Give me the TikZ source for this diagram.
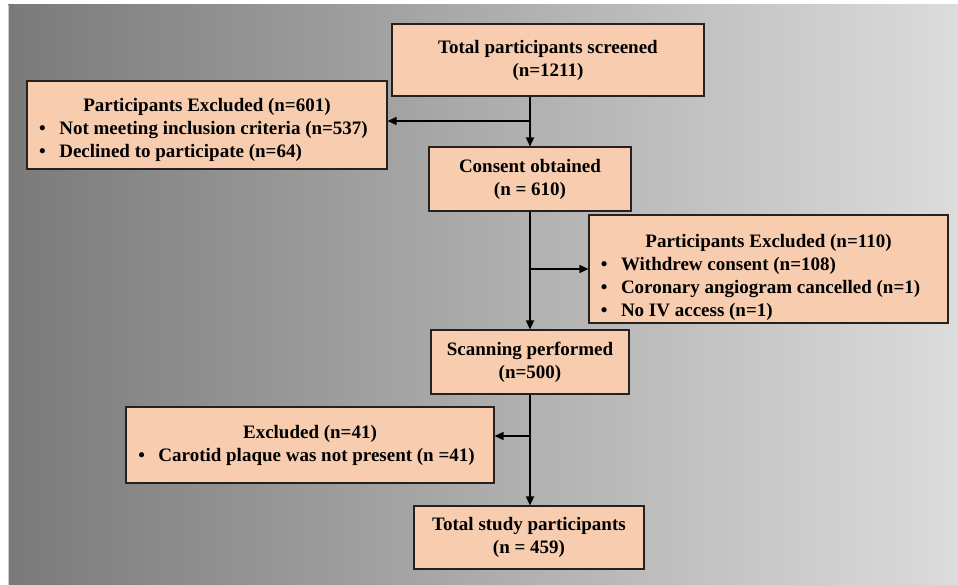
\documentclass[tikz,border=0pt]{standalone}
\usepackage{fontspec}
\setmainfont{Liberation Serif}
\usetikzlibrary{arrows.meta}
\definecolor{bgdark}{RGB}{122,122,122}
\definecolor{bgmid}{RGB}{172,172,172}
\definecolor{bglight}{RGB}{220,220,220}
\definecolor{boxfill}{RGB}{248,204,174}
\definecolor{boxline}{RGB}{40,32,28}
\tikzset{
  flowbox/.style={draw=boxline, line width=1.1pt, fill=boxfill, inner sep=0pt,
    align=center, font=\fontsize{19}{23}\selectfont\bfseries},
  flowarrow/.style={line width=1.4pt, -{Triangle[length=9pt,width=8pt]}},
}
% a box given by its corners in pixel units (x right, y down)
\newcommand{\flowbox}[6]{%
  \node[flowbox, minimum width={(#4-#2)*1pt}, minimum height={(#5-#3)*1pt}]
    (#1) at ({(#2+#4)/2}, {(#3+#5)/2}) {#6};}
% bulleted list set under a centred heading
\newenvironment{bulletlist}{\renewcommand{\arraystretch}{1.0}%
  \begin{tabular}[t]{@{}l@{\hspace{13.5pt}}l@{}}}{\end{tabular}}
\newcommand{\itemrow}[1]{\textbullet & #1\\}
\newcommand{\lastrow}[1]{\textbullet & #1}
% extra room above a heading, pushing the block of lines down
\newcommand{\padtop}[1]{\rule{0pt}{#1}}
% room kept right of a list, moving it left within its box
\newcommand{\padright}[1]{\kern#1\relax}
\begin{document}
\begin{tikzpicture}[x=1pt, y=-1pt]
  \useasboundingbox (0,0) rectangle (958,585);
  \fill[white] (0,0) rectangle (958,585);
  % gradient backdrop
  \shade[left color=bgdark, right color=bglight, middle color=bgmid] (8,5) rectangle (958,585);
  \draw[gray!40, line width=0.8pt] (8,5) -- (8,585);

  \flowbox{screen}{392}{24}{704}{96}{Total participants screened\\(n=1211)}
  \flowbox{excl1}{27}{81}{387}{169}{\padtop{25pt}Participants Excluded (n=601)\\
    \begin{bulletlist}
    \itemrow{Not meeting inclusion criteria (n=537)}
    \lastrow{Declined to participate (n=64)}
    \end{bulletlist}\padright{7pt}}
  \flowbox{consent}{429}{147}{631}{211}{Consent obtained\\(n = 610)}
  \flowbox{excl2}{589}{216}{948}{322}{\padtop{32pt}Participants Excluded (n=110)\\
    \begin{bulletlist}
    \itemrow{Withdrew consent (n=108)}
    \itemrow{Coronary angiogram cancelled (n=1)}
    \lastrow{No IV access (n=1)}
    \end{bulletlist}\padright{16pt}}
  \flowbox{scan}{431}{330}{629}{394}{Scanning performed\\(n=500)}
  \flowbox{excl3}{126}{407}{494}{483}{\padtop{16pt}Excluded (n=41)\\
    \begin{bulletlist}
    \lastrow{Carotid plaque was not present (n =41)}
    \end{bulletlist}\padright{7pt}}
  \flowbox{final}{414}{506}{644}{569}{Total study participants\\(n = 459)}

  % branch points on the main vertical line
  \coordinate (j1) at (530,121);
  \coordinate (j2) at (530,269);
  \coordinate (j3) at (530,436);

  \draw[flowarrow] (screen.south -| consent.north) -- (consent.north);
  \draw[flowarrow] (j1) -- (j1 -| excl1.east);
  \draw[flowarrow] (consent.south) -- (scan.north);
  \draw[flowarrow] (j2) -- (j2 -| excl2.west);
  \draw[flowarrow] (scan.south) -- (scan.south |- final.north);
  \draw[flowarrow] (j3) -- (j3 -| excl3.east);
\end{tikzpicture}
\end{document}
